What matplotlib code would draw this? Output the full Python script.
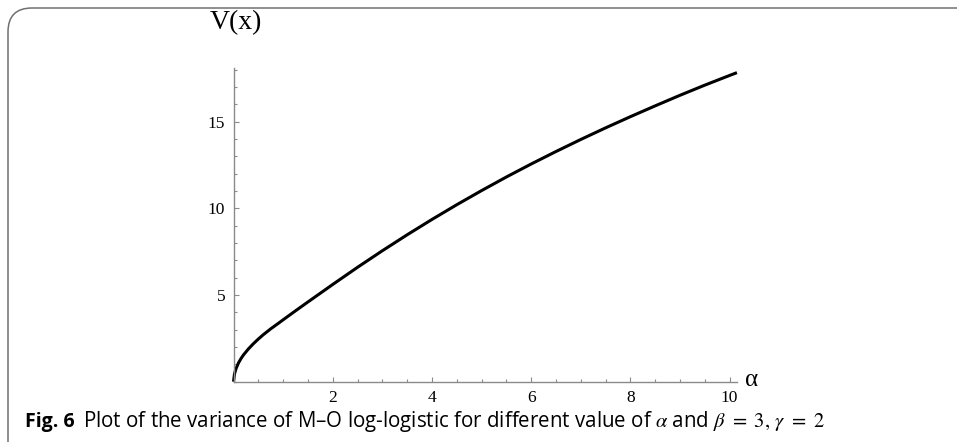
import matplotlib
matplotlib.use("Agg")
import matplotlib.pyplot as plt
from matplotlib.patches import FancyBboxPatch
from matplotlib.ticker import MultipleLocator, FixedLocator

# Data
alpha = [0, 0.02, 0.05, 0.1, 0.15, 0.2, 0.3, 0.4, 0.5, 0.6, 0.75, 0.9, 1.0, 1.25,
         1.5, 2.0, 2.5, 3.0, 3.5, 4.0, 4.5, 5.0, 5.5, 6.0, 6.5, 7.0, 7.5, 8.0,
         8.5, 9.0, 9.5, 10.0, 10.15]
variance = [0, 0.45, 0.75, 1.08, 1.33, 1.54, 1.89, 2.19, 2.46, 2.71, 3.05, 3.36,
            3.57, 4.09, 4.6, 5.61, 6.6, 7.555, 8.475, 9.36, 10.21, 11.025,
            11.81, 12.56, 13.28, 13.975, 14.645, 15.29, 15.915, 16.525, 17.11,
            17.67, 17.835]
x_ticks = [2, 4, 6, 8, 10]
y_ticks = [5, 10, 15]

W, H = 957, 442
plt.rcParams['mathtext.fontset'] = 'stix'
fig = plt.figure(figsize=(W / 100, H / 100), dpi=100)

# frame with rounded corner (clipped by figure edges)
frame = FancyBboxPatch((8 / W, -0.2), 1.2, 1.2 - 8 / H,
                       boxstyle="round,pad=0,rounding_size=0.025",
                       transform=fig.transFigure, fill=False,
                       edgecolor="#707070", linewidth=1.1, mutation_aspect=W / H)
fig.patches.append(frame)

x0, x1 = 233.5, 737.0
y0, y1 = 381.7, 68.0
ax = fig.add_axes([x0 / W, (H - y0) / H, (x1 - x0) / W, (y0 - y1) / H])
ax.set_xlim(0, (x1 - x0) / 49.6)
ax.set_ylim(0, (y0 - y1) / 17.33)
ax.plot(alpha, variance, color="black", lw=2.2, solid_capstyle="butt",
        solid_joinstyle="round", clip_on=False)

for s in ["top", "right"]:
    ax.spines[s].set_visible(False)
for s in ["left", "bottom"]:
    ax.spines[s].set_color("#8a8a8a")
    ax.spines[s].set_linewidth(1.0)
ax.patch.set_alpha(0)

ax.xaxis.set_major_locator(FixedLocator(x_ticks))
ax.yaxis.set_major_locator(FixedLocator(y_ticks))
ax.xaxis.set_minor_locator(MultipleLocator(0.5))
ax.yaxis.set_minor_locator(MultipleLocator(1))
ax.tick_params(which="both", direction="in", color="#8a8a8a", width=0.8,
               labelcolor="black")
ax.tick_params(which="major", length=3.5, pad=6)
ax.tick_params(which="minor", length=2)
ax.set_xticklabels([str(t) for t in x_ticks], fontfamily="Liberation Serif", fontsize=12.5)
ax.set_yticklabels([str(t) for t in y_ticks], fontfamily="Liberation Serif", fontsize=12.5)

fig.text(236 / W, 1 - 23 / H, "V(x)", ha="center", va="center",
         fontfamily="Liberation Serif", fontsize=20)
fig.text(745 / W, 1 - 380 / H, "α", ha="left", va="center",
         fontfamily="Liberation Serif", fontsize=18)

# caption
t1 = fig.text(25 / W, 1 - 422 / H, "Fig. 6", ha="left", va="center",
              fontfamily="Open Sans", fontweight="bold", fontsize=14)
fig.canvas.draw()
bb = t1.get_window_extent(renderer=fig.canvas.get_renderer())
fig.text((bb.x1 + 8) / W, 1 - 422 / H,
         r"Plot of the variance of M–O log-logistic for different value of $\alpha$ and $\beta\ =\ 3,\, \gamma\ =\ 2$",
         ha="left", va="center", fontfamily="Open Sans", fontsize=14.8)

fig.savefig("out.png", dpi=100)
